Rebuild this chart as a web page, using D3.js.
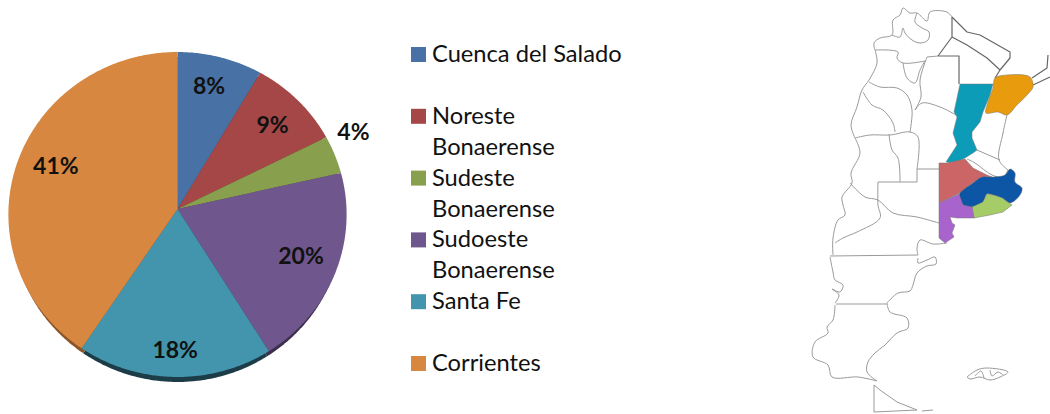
<!DOCTYPE html>
<html>
<head>
<meta charset="utf-8">
<script src="https://cdn.jsdelivr.net/npm/d3@7"></script>
<style>
  html, body { margin: 0; background: #fff; }
  svg { display: block; }
  text { font-family: Lato, "Open Sans", sans-serif; fill: #111; }
</style>
</head>
<body>
<svg id="chart" width="1050" height="414"></svg>
<script>
//========================== Data ================================

const categories = ['Cuenca del Salado', 'Noreste Bonaerense', 'Sudeste Bonaerense', 'Sudoeste Bonaerense', 'Santa Fe', 'Corrientes']
const legendLines = [['Cuenca del Salado'], ['Noreste', 'Bonaerense'], ['Sudeste', 'Bonaerense'], ['Sudoeste', 'Bonaerense'], ['Santa Fe'], ['Corrientes']]
const shares = [8.4, 9.2, 3.8, 19.8, 18.1, 40.7]
const sliceColors = ['#4871a5', '#a54747', '#88a04e', '#6f568d', '#4295ac', '#d7873f']
const rimColors = ['#2c4565', '#642b2b', '#536130', '#3c2f4e', '#1c3c48', '#8a5528']
const labelDist = [0.78, 0.76, 1.14, 0.79, 0.85, 0.77]
const labelNudge = [[-2, -4], [3, -1], [-3, -15], [-1, -3], [0, -1], [2, -8]]

// map outlines in page pixels
const santaFe = [[960,84],[993,84],[990,95],[983,112],[980,122],[972,132],[972,138],[977,150],[973,153],[965,158],[955,163],[946,162],[957,145],[953,133],[957,117],[954,112]]
const corrientes = [[995,78],[1007,75],[1030,77],[1033,87],[1027,95],[1017,105],[1007,115],[998,112],[986,113],[988,102],[993,88]]
const noreste = [[939,163],[947,163],[965,159],[973,168],[987,175],[992,177],[980,178],[970,185],[960,193],[939,203]]
const salado = [[959,195],[973,183],[982,177],[992,177],[1005,175],[1010,169],[1015,173],[1015,182],[1022,188],[1020,195],[1010,203],[1002,198],[993,195],[987,194],[983,202],[972,207],[963,205]]
const sudeste = [[972,207],[983,202],[987,194],[993,195],[1002,198],[1012,205],[1003,212],[990,215],[974,218]]
const sudoeste = [[939,203],[959,194],[963,205],[972,207],[974,218],[957,218],[950,217],[952,223],[955,225],[952,233],[954,237],[945,243],[939,238]]
const regions = [santaFe, corrientes, noreste, salado, sudeste, sudoeste]
const regionColors = ['#0d9cb8', '#e89c0c', '#cc6666', '#0b55a5', '#a5cc66', '#a864cc']

const darkBorders = [
  [[952,17],[967,32],[980,35],[1010,52],[1010,58],[1000,70],[995,78]],
  [[952,17],[952,37],[938,56]],
  [[952,37],[967,45],[987,58],[1000,70]],
  [[938,56],[959,56],[959,84]],
  [[1033,85],[1050,77]],
  [[1032,78],[1047,68],[1048,55]]
]
const straightBorders = [
  [[874,385],[874,412],[917,410],[897,402],[880,390],[874,385]],
  [[922,411],[933,410]],
  [[878,182],[917,182],[917,169]],
  [[917,169],[939,169]],
  [[830,256],[918,255]],
  [[836,304],[887,304]]
]
const greyBorders = [
  [[875,50],[874,43],[880,38],[892,35],[893,20],[900,15],[903,8],[910,13],[917,13],[927,21],[930,12],[947,12],[952,17]],
  [[917,13],[915,22],[922,28],[929,32],[928,40],[920,43],[912,40],[905,33],[903,28],[900,37],[892,35]],
  [[927,57],[938,56]],
  [[927,57],[920,80],[921,97],[915,110]],
  [[875,50],[898,52],[897,58],[903,63],[925,61]],
  [[903,63],[907,78],[915,83],[920,70],[925,61]],
  [[875,50],[877,63],[869,80],[862,90],[857,107],[851,125],[855,138]],
  [[869,82],[880,87],[897,88],[907,95],[912,110],[910,132]],
  [[863,92],[872,105],[883,110],[893,123],[895,132]],
  [[855,138],[870,135],[890,135],[910,132],[918,137],[917,169]],
  [[915,110],[922,103],[940,107],[956,115]],
  [[889,134],[892,150],[898,158],[900,182]],
  [[878,182],[878,205],[880,218],[857,232],[843,238],[835,243]],
  [[855,138],[860,153],[851,173],[852,183],[842,197],[843,205],[845,215],[838,220],[833,238],[833,255]],
  [[850,183],[865,197],[878,200],[893,213],[917,217],[939,223]],
  [[947,243],[933,244],[920,240],[917,248],[918,255]],
  [[918,258],[918,263],[927,260],[935,257],[936,264],[927,266],[917,273],[913,285],[910,291],[898,293],[887,303]],
  [[830,257],[833,272],[835,280],[843,285],[840,292],[832,289],[839,295],[835,303]],
  [[887,303],[890,312],[907,318],[908,328],[897,333],[885,345],[875,353],[868,362],[867,372],[877,381]],
  [[835,305],[833,320],[827,327],[828,333],[815,342],[813,357],[828,365],[832,377],[858,377],[877,381]],
  [[967,377],[977,370],[987,368],[1008,372],[1000,377],[990,380],[980,377],[970,379],[967,377]],
  [[975,376],[981,371],[984,378]],
  [[990,370],[992,376],[998,372],[1003,375]],
  [[1007,115],[1003,133],[999,160],[1008,170]],
  [[977,150],[1000,160]],
  [[967,159],[975,163],[992,175],[1003,177],[1008,170]]
]

//========================== Drawing ================================

const svg = d3.select('#chart')
const defs = svg.append('defs')
defs.append('filter').attr('id', 'soft').append('feGaussianBlur').attr('stdDeviation', 0.45)

const apexX = 177.5, apexY = 209, radiusX = 169, radiusY = 162.3, tilt = 0.0338

// the pie is photographed slightly from below, so the apex sits above the ellipse centre
const project = (a, f, rx, dy) => {
  let u = f * Math.sin(a), v = f * Math.cos(a), w = 1 + tilt * v
  return [apexX + rx * u / w, apexY + dy - radiusY * v / w]
}

const arcs = d3.pie().sort(null).value(d => d)(shares)
const lineGen = d3.line()
const wiggly = d3.line().curve(d3.curveCatmullRom.alpha(0.5))
const wigglyClosed = d3.line().curve(d3.curveCatmullRomClosed.alpha(0.5))

const slicePath = (d, rx, dy) => {
  let step = (d.endAngle - d.startAngle) / Math.ceil((d.endAngle - d.startAngle) / 0.01)
  let pts = d3.range(d.startAngle, d.endAngle + step / 2, step).map(a => project(a, 1, rx, dy))
  return lineGen([project(0, 0, rx, dy), ...pts]) + 'Z'
}

let pieG = svg.append('g')

pieG.selectAll('path.rim').data(arcs).join('path')
  .attr('class', 'rim')
  .attr('d', d => slicePath(d, radiusX - 3, 5))
  .attr('fill', (d, i) => rimColors[i])

pieG.selectAll('path.slice').data(arcs).join('path')
  .attr('class', 'slice')
  .attr('d', d => slicePath(d, radiusX, 0))
  .attr('fill', (d, i) => sliceColors[i])

pieG.selectAll('text').data(arcs).join('text')
  .attr('transform', (d, i) => {
    let p = project((d.startAngle + d.endAngle) / 2, labelDist[i], radiusX, 0)
    return `translate(${p[0] + labelNudge[i][0]},${p[1] + labelNudge[i][1]})`
  })
  .attr('dy', '0.36em')
  .attr('text-anchor', 'middle')
  .attr('font-size', 23)
  .attr('font-weight', 700)
  .text(d => `${Math.round(d.value)}%`)

// legend
let legendY = d3.scalePoint().domain(categories).range([47, 356])
let legend = svg.append('g').selectAll('g').data(categories).join('g')
  .attr('transform', d => `translate(411,${legendY(d)})`)

legend.append('rect')
  .attr('width', 15).attr('height', 15)
  .attr('fill', (d, i) => sliceColors[i])

legend.append('text')
  .attr('font-size', 23.7)
  .selectAll('tspan').data((d, i) => legendLines[i]).join('tspan')
  .attr('x', 21)
  .attr('y', (d, i) => 15 + i * 31)
  .text(d => d)

// map
let mapG = svg.append('g').attr('filter', 'url(#soft)').attr('fill', 'none').attr('stroke-linejoin', 'round')

mapG.selectAll('path.grey').data(greyBorders).join('path')
  .attr('class', 'grey')
  .attr('d', d => wiggly(d))
  .attr('stroke', '#999').attr('stroke-width', 1)

mapG.selectAll('path.straight').data(straightBorders).join('path')
  .attr('class', 'straight')
  .attr('d', d => lineGen(d))
  .attr('stroke', '#999').attr('stroke-width', 1)

mapG.selectAll('path.dark').data(darkBorders).join('path')
  .attr('class', 'dark')
  .attr('d', d => lineGen(d))
  .attr('stroke', '#666').attr('stroke-width', 1.2)

mapG.selectAll('path.region').data(regions).join('path')
  .attr('class', 'region')
  .attr('d', (d, i) => i === 1 || i === 3 ? wigglyClosed(d) : lineGen(d) + 'Z')
  .attr('fill', (d, i) => regionColors[i])
  .attr('stroke', '#777').attr('stroke-width', 0.5)
</script>
</body>
</html>
